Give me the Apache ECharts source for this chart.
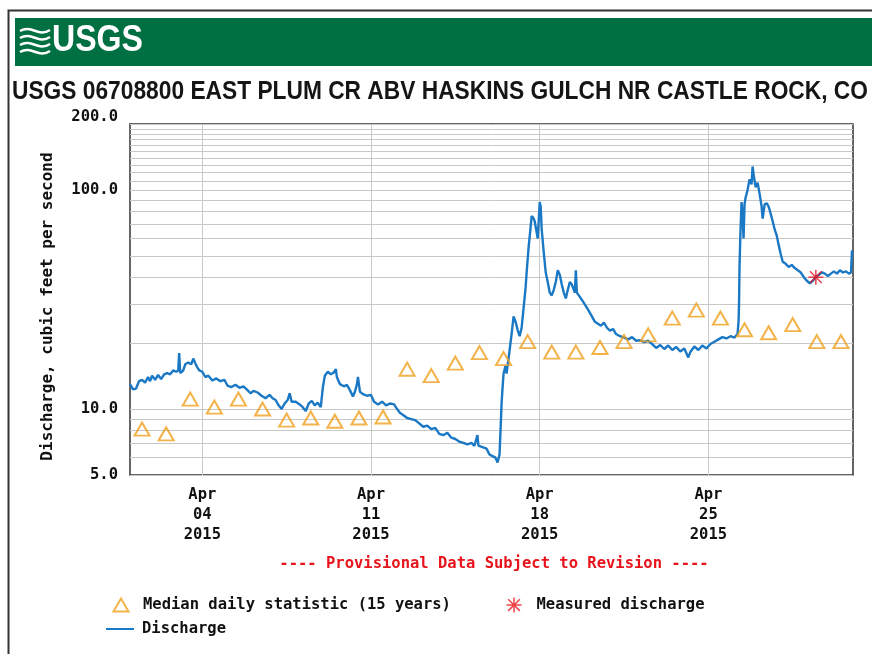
<!DOCTYPE html>
<html><head><meta charset="utf-8">
<script src="https://cdn.jsdelivr.net/npm/echarts@6/dist/echarts.min.js"></script>
<style>html,body{margin:0;padding:0;background:#fff}#c{width:872px;height:654px}</style>
</head><body><div id="c"></div>
<script>
const titleText = 'USGS 06708800 EAST PLUM CR ABV HASKINS GULCH NR CASTLE ROCK, CO';
const logoText = 'USGS';
const provisionalText = '---- Provisional Data Subject to Revision ----';
const yAxisName = 'Discharge, cubic feet per second';
const startDate = [2015, 3, 1];
const endDate = [2015, 4, 1];
const xTickDates = [[2015, 3, 4], [2015, 3, 11], [2015, 3, 18], [2015, 3, 25]];
const monthNames = ['Jan','Feb','Mar','Apr','May','Jun','Jul','Aug','Sep','Oct','Nov','Dec'];
const yTickValues = [5, 10, 100, 200];
const yGridValues = [5,6,7,8,9,10,20,30,40,50,60,70,80,90,100,110,120,130,140,150,160,170,180,190,200];

const medianDays = [1,2,3,4,5,6,7,8,9,10,11,12,13,14,15,16,17,18,19,20,21,22,23,24,25,26,27,28,29,30];
const medianCfs = [8.1,7.7,11.1,10.2,11.1,10.0,8.9,9.1,8.8,9.1,9.2,15.2,14.2,16.2,18.1,17.0,20.3,18.2,18.2,19.1,20.3,21.8,26.0,28.3,26.0,23.0,22.3,24.3,20.3,20.3];

const measuredHours = [683];
const measuredCfs = [40];

const dischargeHours = [
0,3,6,9,12,15,18,20,22,25,28,31,34,37,40,43,46,48,49,50,53,55,58,61,63,65,67,69,72,75,78,82,86,90,94,97,101,105,109,113,117,120,
123,127,131,135,139,142,145,148,151,154,157,159,161,165,169,172,175,178,181,184,187,190,192,194,197,200,203,205,206,209,213,216,219,222,224,226,227,229,232,236,240,243,247,251,255,259,263,266,269,272,276,280,284,288,292,296,300,304,308,312,316,320,324,328,332,336,340,343,346,347,351,355,358,361,364,
366,368,369,370,371,372,374,375,376,378,380,382,384,386,388,390,392,394,395,397,399,400,402,403,405,406,407,408,409,410,412,414,416,418,420,422,424,426,428,430,432,434,436,438,440,442,443,444,445,448,451,454,457,460,463,466,469,472,475,478,481,484,488,492,496,500,504,508,512,516,520,524,528,532,536,540,544,548,552,556,558,562,566,570,574,578,582,586,590,594,598,602,605,606,606.5,
607,608,609,610,611,612,613,615,617,619,620,621,623,625,627,629,630,632,634,636,638,640,642,644,646,648,650,653,656,659,662,665,668,671,674,677,680,683,686,689,692,695,698,701,704,707,710,713,716,718,719
];
const dischargeCfs = [
13.0,12.3,12.4,13.4,13.6,13.2,14.0,13.4,14.2,13.6,14.3,13.7,14.4,14.6,14.4,15.0,14.8,15.0,18.0,14.6,15.0,16.0,16.3,16.0,17.0,16.2,15.5,15.0,14.8,14.0,14.2,13.5,13.8,13.4,13.6,12.8,12.6,12.9,12.5,12.7,12.2,11.8,
12.1,11.9,11.5,11.2,11.6,11.2,11.0,10.4,10.0,10.6,11.0,11.8,10.8,10.8,10.5,10.2,9.8,10.6,10.9,10.4,10.7,10.2,12.5,14.2,14.8,14.4,14.7,15.2,14.0,13.0,12.7,12.9,12.2,11.4,12.0,13.0,14.0,12.0,11.7,11.5,11.6,10.8,10.5,10.8,10.4,10.6,10.5,10.0,9.6,9.4,9.1,9.0,8.9,8.6,8.3,8.4,8.1,8.2,7.7,7.6,7.8,7.4,7.3,7.1,7.0,6.9,7.0,6.8,7.6,6.8,6.7,6.6,6.2,6.1,6.0,
5.7,6.2,8.0,10.5,12.5,14.5,15.8,14.5,14.8,18.5,22.0,26.5,25.0,23.0,21.5,23.5,29.0,36.0,42.0,55.0,68.0,76.0,74.0,72.0,64.0,60.0,72.0,88.0,84.0,66.0,52.0,42.0,38.0,34.0,33.0,35.0,38.0,43.0,41.0,37.0,34.0,32.0,35.0,38.0,37.0,35.0,34.0,43.0,34.0,32.5,31.0,29.5,28.0,26.5,25.0,24.5,24.0,24.8,23.5,22.8,23.2,22.0,21.5,21.2,20.8,21.3,20.5,20.6,20.2,20.5,19.8,19.0,19.6,18.8,19.5,18.6,19.2,18.3,18.9,17.2,18.2,19.3,18.6,19.5,18.9,19.8,20.3,20.8,21.3,21.0,21.5,21.2,22.0,25.0,30.0,
45.0,66.0,88.0,78.0,60.0,86.0,92.0,100.0,112.0,106.0,128.0,118.0,103.0,108.0,96.0,84.0,74.0,86.0,87.0,84.0,78.0,72.0,66.0,62.0,56.0,51.0,47.0,46.0,44.5,45.5,44.0,43.0,42.0,40.0,38.5,37.5,38.5,40.0,41.0,42.0,41.5,40.5,41.5,42.5,41.5,43.0,42.0,42.5,41.5,42.0,53.0
];

const HOUR = 3600000;
const t0 = Date.UTC(startDate[0], startDate[1], startDate[2]);
const t1 = Date.UTC(endDate[0], endDate[1], endDate[2]);
const xTicks = xTickDates.map(d => Date.UTC(d[0], d[1], d[2]));
const pad2 = n => (n < 10 ? '0' : '') + n;

const monoFont = "'DejaVu Sans Mono', 'Liberation Mono', monospace";
const sansFont = "'Liberation Sans', Arial, sans-serif";
const titleFont = 'bold 25px ' + sansFont;
const logoFont = 'bold 36px ' + sansFont;

// fit the narrow-looking header texts to the width they occupy in the reference
const mctx = document.createElement('canvas').getContext('2d');
function textWidth(txt, font) { mctx.font = font; return mctx.measureText(txt).width; }
const titleScale = 856 / textWidth(titleText, titleFont);
const logoScale = 91 / textWidth(logoText, logoFont);

const dischargeData = dischargeHours.map((h, i) => [t0 + h * HOUR, dischargeCfs[i]]);
const medianData = medianDays.map((d, i) => [t0 + ((d - 1) * 24 + 12) * HOUR, medianCfs[i]]);
const measuredData = measuredHours.map((h, i) => [t0 + h * HOUR, measuredCfs[i]]);

const asterisk = 'path://M9,0h2v20h-2z M0,9h20v2h-20z M2.9,1.5L18.5,17.1L17.1,18.5L1.5,2.9z M17.1,1.5L18.5,2.9L2.9,18.5L1.5,17.1z';
const orange = '#f0a01e';
const blue = '#1a78c4';
const red = '#e8141c';
const legendText = { fontFamily: monoFont, fontWeight: 'bold', fontSize: 15.5, color: '#111' };

const chart = echarts.init(document.getElementById('c'), null, {renderer: 'canvas'});
chart.setOption({
  animation: false,
  backgroundColor: '#fff',
  title: [
    { text: provisionalText, left: 489, top: 551, textAlign: 'center',
      textStyle: { fontFamily: monoFont, fontWeight: 'bold', fontSize: 15.5, color: red } }
  ],
  graphic: [
    { type: 'polyline', shape: { points: [[8.5, 654], [8.5, 10.5], [872, 10.5]] },
      style: { stroke: '#333', lineWidth: 2, fill: null }, silent: true },
    { type: 'rect', shape: { x: 15, y: 18, width: 857, height: 48 }, style: { fill: '#006f41' }, silent: true },
    { type: 'bezierCurve', shape: { x1: 20, y1: 31, cpx1: 32, cpy1: 24, cpx2: 38, cpy2: 38, x2: 50, y2: 30 }, style: { stroke: '#fff', lineWidth: 2.5, fill: null } },
    { type: 'bezierCurve', shape: { x1: 20, y1: 38, cpx1: 32, cpy1: 31, cpx2: 38, cpy2: 45, x2: 50, y2: 37 }, style: { stroke: '#fff', lineWidth: 2.5, fill: null } },
    { type: 'bezierCurve', shape: { x1: 20, y1: 45, cpx1: 32, cpy1: 38, cpx2: 38, cpy2: 52, x2: 50, y2: 44 }, style: { stroke: '#fff', lineWidth: 2.5, fill: null } },
    { type: 'bezierCurve', shape: { x1: 20, y1: 52, cpx1: 32, cpy1: 45, cpx2: 38, cpy2: 59, x2: 50, y2: 51 }, style: { stroke: '#fff', lineWidth: 2.5, fill: null } },
    { type: 'text', x: 52, y: 41, scaleX: logoScale,
      style: { text: logoText, fill: '#fff', font: logoFont, verticalAlign: 'middle', align: 'left' } },
    { type: 'text', x: 12, y: 92, scaleX: titleScale,
      style: { text: titleText, fill: '#151515', font: titleFont, verticalAlign: 'middle', align: 'left' } }
  ],
  legend: [
    { left: 107.5, top: 592, itemWidth: 15, itemHeight: 13, data: ['Median daily statistic (15 years)'],
      textStyle: Object.assign({ padding: [0, 0, 0, 9.5] }, legendText) },
    { left: 501.5, top: 592, itemWidth: 15, itemHeight: 15, data: ['Measured discharge'],
      textStyle: Object.assign({ padding: [0, 0, 0, 10] }, legendText) },
    { left: 101, top: 616, itemWidth: 28, itemHeight: 2, data: [{ name: 'Discharge', icon: 'rect' }],
      textStyle: Object.assign({ padding: [0, 0, 0, 3] }, legendText) }
  ],
  grid: { left: 130, right: 19, top: 124, bottom: 179, show: true, borderColor: '#333', borderWidth: 1.5, backgroundColor: '#fff' },
  xAxis: {
    type: 'value', min: t0, max: t1,
    axisLine: { show: false },
    axisTick: { show: false, customValues: xTicks },
    splitLine: { show: true, lineStyle: { color: '#c8c8c8', width: 1 } },
    axisLabel: {
      customValues: xTicks, margin: 10, fontFamily: monoFont, fontWeight: 'bold', fontSize: 15.5, lineHeight: 20, color: '#111',
      formatter: v => { const d = new Date(v); return monthNames[d.getUTCMonth()] + '\n' + pad2(d.getUTCDate()) + '\n' + d.getUTCFullYear(); }
    }
  },
  yAxis: {
    type: 'log', logBase: 10, min: yTickValues[0], max: yTickValues[yTickValues.length - 1],
    name: yAxisName, nameLocation: 'middle', nameGap: 74,
    nameTextStyle: { fontFamily: monoFont, fontWeight: 'bold', fontSize: 16, color: '#111', padding: [0, 14, 0, 0] },
    axisLine: { show: false },
    axisTick: { show: false, customValues: yGridValues },
    splitLine: { show: true, lineStyle: { color: '#c8c8c8', width: 1 } },
    axisLabel: {
      customValues: yTickValues, margin: 12, fontFamily: monoFont, fontWeight: 'bold', fontSize: 15.5, color: '#111',
      formatter: v => (Math.abs(v - yTickValues[yTickValues.length - 1]) < 1e-6 ? '{top|' + v.toFixed(1) + '}' : v.toFixed(1)),
      rich: { top: { fontFamily: monoFont, fontWeight: 'bold', fontSize: 15.5, color: '#111', padding: [0, 0, 14, 0] } }
    }
  },
  series: [
    { name: 'Discharge', type: 'line', data: dischargeData, symbol: 'none', showSymbol: false,
      lineStyle: { color: blue, width: 2.4 }, itemStyle: { color: blue }, z: 2 },
    { name: 'Median daily statistic (15 years)', type: 'scatter', data: medianData, symbol: 'triangle', symbolSize: [15, 13],
      itemStyle: { color: 'rgba(255,255,255,0)', borderColor: orange, borderWidth: 2 }, z: 3 },
    { name: 'Measured discharge', type: 'scatter', data: measuredData, symbol: asterisk, symbolSize: 15,
      itemStyle: { color: red }, z: 4 }
  ]
});
</script></body></html>
